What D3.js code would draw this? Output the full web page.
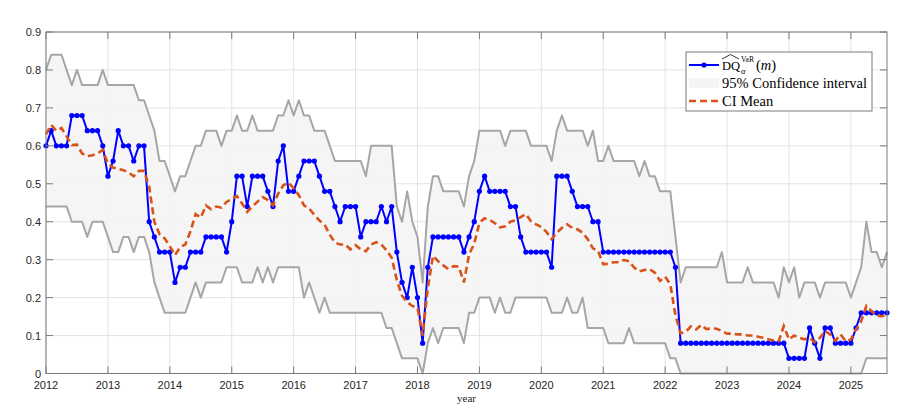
<!DOCTYPE html>
<html><head><meta charset="utf-8">
<script src="https://cdn.jsdelivr.net/npm/d3@7/dist/d3.min.js"></script>
<style>body{margin:0;background:#fff}svg{display:block}</style>
</head><body><svg id="c" width="915" height="420"></svg>
<script>
// Monthly observations, Jan 2012 .. Aug 2025
const startYear = 2012;
const dq = [
0.60,0.64,0.60,0.60,0.60,0.68,0.68,0.68,0.64,0.64,0.64,0.60,
0.52,0.56,0.64,0.60,0.60,0.56,0.60,0.60,0.40,0.36,0.32,0.32,
0.32,0.24,0.28,0.28,0.32,0.32,0.32,0.36,0.36,0.36,0.36,0.32,
0.40,0.52,0.52,0.44,0.52,0.52,0.52,0.48,0.44,0.56,0.60,0.48,
0.48,0.52,0.56,0.56,0.56,0.52,0.48,0.48,0.44,0.40,0.44,0.44,
0.44,0.36,0.40,0.40,0.40,0.44,0.40,0.44,0.32,0.24,0.20,0.28,
0.20,0.08,0.28,0.36,0.36,0.36,0.36,0.36,0.36,0.32,0.36,0.40,
0.48,0.52,0.48,0.48,0.48,0.48,0.44,0.44,0.36,0.32,0.32,0.32,
0.32,0.32,0.28,0.52,0.52,0.52,0.48,0.44,0.44,0.44,0.40,0.40,
0.32,0.32,0.32,0.32,0.32,0.32,0.32,0.32,0.32,0.32,0.32,0.32,
0.32,0.32,0.28,0.08,0.08,0.08,0.08,0.08,0.08,0.08,0.08,0.08,
0.08,0.08,0.08,0.08,0.08,0.08,0.08,0.08,0.08,0.08,0.08,0.08,
0.04,0.04,0.04,0.04,0.12,0.08,0.04,0.12,0.12,0.08,0.08,0.08,
0.08,0.12,0.16,0.16,0.16,0.16,0.16,0.16];
const ciUpper = [
0.80,0.84,0.84,0.84,0.80,0.76,0.80,0.76,0.76,0.76,0.76,0.80,
0.76,0.76,0.76,0.76,0.76,0.76,0.72,0.72,0.68,0.64,0.56,0.56,
0.52,0.48,0.52,0.52,0.56,0.60,0.60,0.64,0.64,0.64,0.60,0.64,
0.64,0.68,0.64,0.64,0.68,0.64,0.64,0.64,0.64,0.68,0.68,0.72,
0.68,0.72,0.68,0.68,0.64,0.64,0.64,0.60,0.56,0.56,0.56,0.56,
0.56,0.56,0.52,0.60,0.60,0.60,0.60,0.60,0.44,0.40,0.48,0.40,
0.36,0.24,0.44,0.52,0.52,0.48,0.48,0.48,0.48,0.44,0.52,0.56,
0.64,0.64,0.64,0.64,0.64,0.60,0.64,0.64,0.64,0.64,0.60,0.60,
0.60,0.60,0.56,0.64,0.68,0.64,0.64,0.64,0.64,0.60,0.64,0.56,
0.56,0.60,0.56,0.56,0.56,0.56,0.56,0.52,0.56,0.52,0.52,0.48,
0.48,0.48,0.36,0.24,0.28,0.28,0.28,0.28,0.28,0.28,0.28,0.32,
0.24,0.24,0.24,0.24,0.28,0.24,0.24,0.24,0.24,0.24,0.20,0.28,
0.24,0.28,0.20,0.24,0.24,0.24,0.20,0.24,0.24,0.24,0.24,0.24,
0.20,0.24,0.28,0.40,0.32,0.32,0.28,0.32];
const ciLower = [
0.44,0.44,0.44,0.44,0.44,0.40,0.40,0.40,0.36,0.40,0.40,0.40,
0.36,0.32,0.32,0.36,0.36,0.32,0.36,0.36,0.32,0.24,0.20,0.16,
0.16,0.16,0.16,0.16,0.20,0.24,0.20,0.24,0.24,0.24,0.24,0.28,
0.28,0.28,0.24,0.24,0.24,0.28,0.24,0.28,0.24,0.28,0.28,0.28,
0.28,0.28,0.20,0.24,0.20,0.16,0.20,0.16,0.16,0.16,0.16,0.16,
0.16,0.16,0.16,0.16,0.16,0.16,0.12,0.12,0.08,0.04,0.04,0.04,
0.04,0.00,0.08,0.12,0.08,0.12,0.12,0.12,0.12,0.08,0.16,0.16,
0.20,0.20,0.20,0.16,0.20,0.16,0.16,0.20,0.20,0.20,0.20,0.20,
0.20,0.20,0.16,0.16,0.16,0.20,0.16,0.16,0.20,0.12,0.12,0.12,
0.12,0.08,0.08,0.08,0.08,0.12,0.08,0.08,0.08,0.08,0.08,0.08,
0.08,0.04,0.04,0.00,0.00,0.00,0.00,0.00,0.00,0.00,0.00,0.00,
0.00,0.00,0.00,0.00,0.00,0.00,0.00,0.00,0.00,0.00,0.00,0.00,
0.00,0.00,0.00,0.00,0.00,0.00,0.00,0.00,0.00,0.00,0.00,0.00,
0.00,0.00,0.00,0.04,0.04,0.04,0.04,0.04];
const ciMean = [
0.630,0.655,0.640,0.647,0.625,0.602,0.603,0.580,0.573,0.575,0.580,0.589,
0.553,0.543,0.539,0.536,0.530,0.520,0.534,0.534,0.492,0.400,0.367,0.356,
0.335,0.312,0.333,0.340,0.375,0.420,0.411,0.443,0.433,0.440,0.437,0.452,
0.460,0.468,0.448,0.426,0.440,0.453,0.465,0.457,0.443,0.474,0.496,0.503,
0.488,0.470,0.443,0.435,0.418,0.403,0.392,0.366,0.345,0.340,0.340,0.327,
0.338,0.327,0.322,0.340,0.346,0.340,0.325,0.305,0.246,0.205,0.188,0.178,
0.173,0.100,0.225,0.310,0.296,0.285,0.275,0.283,0.282,0.240,0.314,0.342,
0.397,0.409,0.405,0.396,0.385,0.388,0.400,0.404,0.412,0.420,0.401,0.393,
0.386,0.373,0.354,0.371,0.384,0.393,0.384,0.380,0.371,0.354,0.330,0.323,
0.288,0.289,0.293,0.293,0.299,0.296,0.279,0.269,0.273,0.275,0.266,0.244,
0.255,0.235,0.153,0.106,0.110,0.124,0.116,0.128,0.117,0.119,0.118,0.112,
0.105,0.105,0.103,0.103,0.100,0.100,0.097,0.094,0.090,0.087,0.085,0.125,
0.090,0.100,0.094,0.090,0.094,0.082,0.094,0.112,0.103,0.086,0.103,0.085,
0.090,0.116,0.138,0.178,0.164,0.153,0.151,0.156];
const xTicks = [2012,2013,2014,2015,2016,2017,2018,2019,2020,2021,2022,2023,2024,2025];
const yTicks = [0,0.1,0.2,0.3,0.4,0.5,0.6,0.7,0.8,0.9];
const xLabel = "year";
const legendCI = "95% Confidence interval";
const legendMean = "CI Mean";

const L = 46, R = 887, T = 32, B = 373.5;
const tOf = i => startYear + i / 12;
const x = d3.scaleLinear().domain([startYear, tOf(dq.length - 1)]).range([L, R]);
const y = d3.scaleLinear().domain([0, 0.9]).range([B, T]);
const svg = d3.select("#c");
const idx = d3.range(dq.length);

// grid
const g = svg.append("g");
g.selectAll(".gx").data(xTicks).join("line")
  .attr("x1", d => x(d)).attr("x2", d => x(d)).attr("y1", T).attr("y2", B)
  .attr("stroke", "#e3e3e3").attr("stroke-width", 1);
g.selectAll(".gy").data(yTicks).join("line")
  .attr("x1", L).attr("x2", R).attr("y1", d => y(d)).attr("y2", d => y(d))
  .attr("stroke", "#e3e3e3").attr("stroke-width", 1);

// CI area
const plot = svg.append("g");
plot.append("path").datum(idx)
  .attr("d", d3.area().x(i => x(tOf(i))).y0(i => y(ciLower[i])).y1(i => y(ciUpper[i])))
  .attr("fill", "#f4f4f4").attr("fill-opacity", 0.9);
const ln = arr => d3.line().x(i => x(tOf(i))).y(i => y(arr[i]));
plot.append("path").datum(idx).attr("d", ln(ciUpper))
  .attr("fill", "none").attr("stroke", "#a6a6a6").attr("stroke-width", 2).attr("stroke-linejoin", "round");
plot.append("path").datum(idx).attr("d", ln(ciLower))
  .attr("fill", "none").attr("stroke", "#a6a6a6").attr("stroke-width", 2).attr("stroke-linejoin", "round");

// DQ
plot.append("path").datum(idx).attr("d", ln(dq))
  .attr("fill", "none").attr("stroke", "#0000ff").attr("stroke-width", 2).attr("stroke-linejoin", "round");
plot.selectAll(".pt").data(idx).join("circle")
  .attr("cx", i => x(tOf(i))).attr("cy", i => y(dq[i])).attr("r", 2.6).attr("fill", "#0000ff");

// mean
plot.append("path").datum(idx).attr("d", ln(ciMean))
  .attr("fill", "none").attr("stroke", "#d95319").attr("stroke-width", 2.6)
  .attr("stroke-dasharray", "7,4");

// axes box
const ax = svg.append("g");
ax.append("rect").attr("x", L).attr("y", T).attr("width", R - L).attr("height", B - T)
  .attr("fill", "none").attr("stroke", "#7a7a7a").attr("stroke-width", 1);
const TL = 7;
xTicks.forEach(d => {
  ax.append("line").attr("x1", x(d)).attr("x2", x(d)).attr("y1", B).attr("y2", B - TL).attr("stroke", "#7a7a7a");
  ax.append("line").attr("x1", x(d)).attr("x2", x(d)).attr("y1", T).attr("y2", T + TL).attr("stroke", "#7a7a7a");
});
yTicks.forEach(d => {
  ax.append("line").attr("x1", L).attr("x2", L + TL).attr("y1", y(d)).attr("y2", y(d)).attr("stroke", "#7a7a7a");
  ax.append("line").attr("x1", R).attr("x2", R - TL).attr("y1", y(d)).attr("y2", y(d)).attr("stroke", "#7a7a7a");
});
ax.selectAll(".xl").data(xTicks).join("text")
  .attr("x", d => x(d)).attr("y", B + 15).attr("text-anchor", "middle")
  .attr("font-family", "Liberation Sans, Arial, sans-serif").attr("font-size", 11).attr("fill", "#262626")
  .text(d => d);
ax.selectAll(".yl").data(yTicks).join("text")
  .attr("x", L - 5).attr("y", d => y(d) + 4).attr("text-anchor", "end")
  .attr("font-family", "Liberation Sans, Arial, sans-serif").attr("font-size", 11).attr("fill", "#262626")
  .text(d => d3.format("~g")(d));
ax.append("text").attr("x", (L + R) / 2).attr("y", B + 28).attr("text-anchor", "middle")
  .attr("font-family", "Liberation Serif, serif").attr("font-size", 11).attr("fill", "#262626").text(xLabel);

// legend
const lg = svg.append("g").attr("font-family", "Liberation Serif, serif").attr("font-size", 14.5).attr("fill", "#000");
lg.append("rect").attr("x", 686).attr("y", 52).attr("width", 186).attr("height", 59)
  .attr("fill", "#fff").attr("stroke", "#7a7a7a").attr("stroke-width", 1);
const rows = [65, 83, 101];
lg.append("line").attr("x1", 689).attr("x2", 719).attr("y1", rows[0]).attr("y2", rows[0])
  .attr("stroke", "#0000ff").attr("stroke-width", 2);
lg.append("circle").attr("cx", 704).attr("cy", rows[0]).attr("r", 2.6).attr("fill", "#0000ff");
lg.append("rect").attr("x", 689).attr("y", rows[1] - 5).attr("width", 30).attr("height", 10).attr("fill", "#f4f4f4");
lg.append("line").attr("x1", 689).attr("x2", 719).attr("y1", rows[2]).attr("y2", rows[2])
  .attr("stroke", "#d95319").attr("stroke-width", 2.6).attr("stroke-dasharray", "7,4");
// math label: hat(DQ)_alpha^VaR (m)
lg.append("text").attr("x", 722).attr("y", rows[0] + 5).attr("font-size", 12.5).text("DQ");
lg.append("path").attr("d", `M722,${rows[0]-6} L730.5,${rows[0]-10.5} L739,${rows[0]-6}`)
  .attr("fill", "none").attr("stroke", "#000").attr("stroke-width", 0.8);
lg.append("text").attr("x", 741).attr("y", rows[0] - 3.5).attr("font-size", 7.5).text("VaR");
lg.append("text").attr("x", 741).attr("y", rows[0] + 9).attr("font-size", 8.5).attr("font-style", "italic").text("α");
const pm = lg.append("text").attr("x", 756).attr("y", rows[0] + 5);
pm.append("tspan").text("(");
pm.append("tspan").attr("font-style", "italic").text("m");
pm.append("tspan").text(")");
lg.append("text").attr("x", 722).attr("y", rows[1] + 5).text(legendCI);
lg.append("text").attr("x", 722).attr("y", rows[2] + 5).text(legendMean);
</script></body></html>
